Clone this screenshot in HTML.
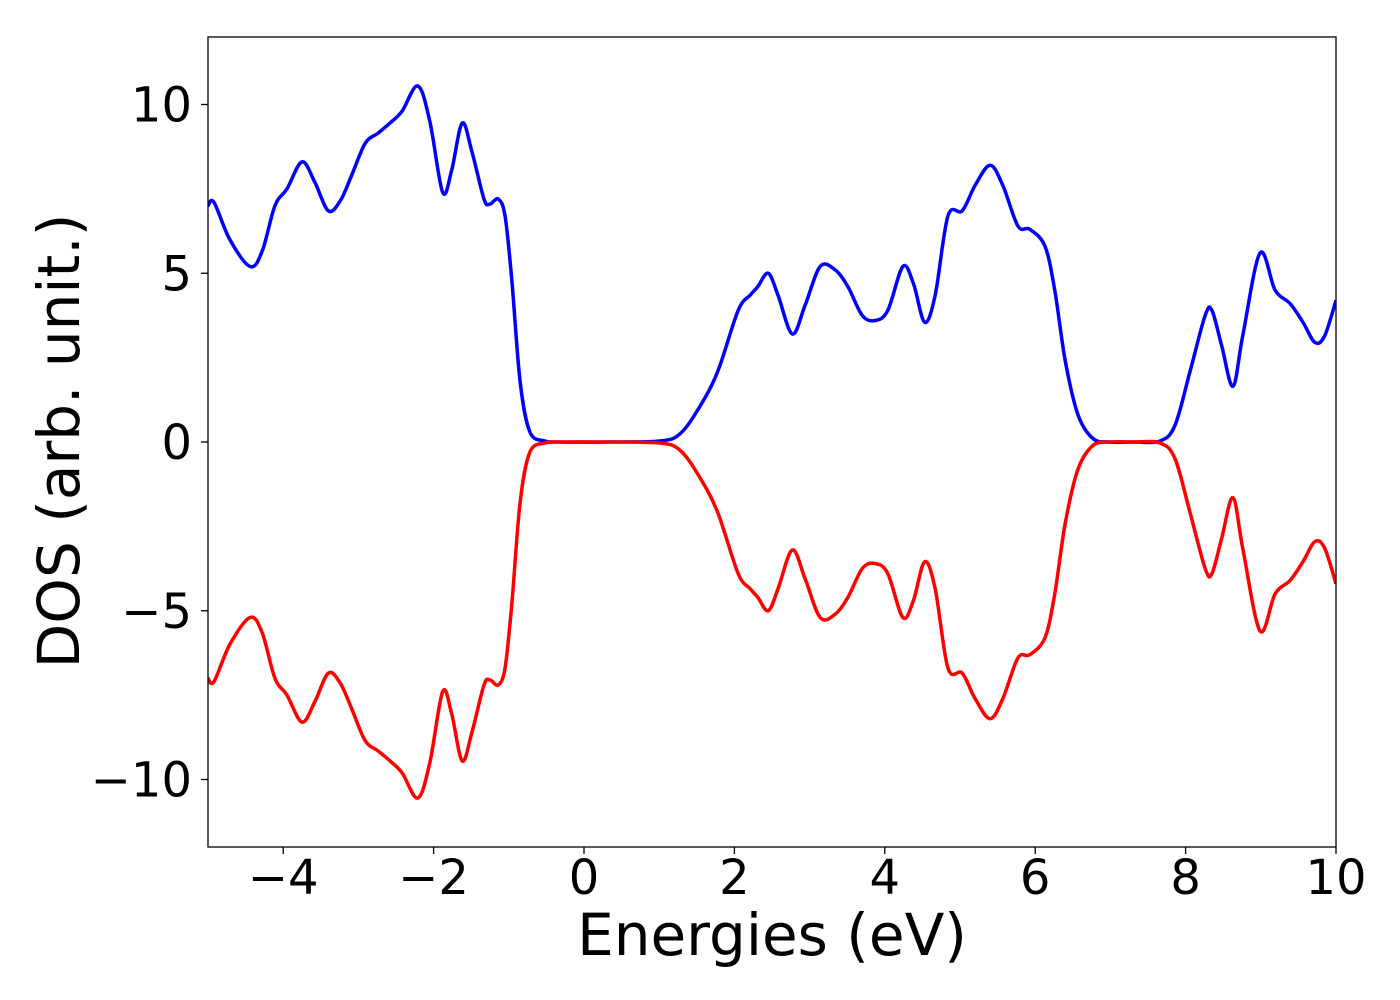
<!DOCTYPE html>
<html><head><meta charset="utf-8"><style>
html,body{margin:0;padding:0;background:#fff;}
svg{display:block;font-family:"DejaVu Sans","Liberation Sans",sans-serif;}
</style></head><body>
<svg id="chart" width="1400" height="1000" xmlns="http://www.w3.org/2000/svg">
<g id="plot"></g>
</svg>
<script>
const energies=[-5,-4.92,-4.71,-4.44,-4.28,-4.11,-3.95,-3.75,-3.58,-3.40,-3.24,-3.09,-2.91,-2.74,-2.58,-2.42,-2.21,-2.05,-1.88,-1.76,-1.62,-1.49,-1.33,-1.25,-1.14,-1.05,-0.96,-0.85,-0.72,-0.52,-0.32,0.3,1.01,1.28,1.54,1.78,2.05,2.21,2.31,2.45,2.58,2.77,2.94,3.14,3.34,3.51,3.70,3.87,4.04,4.24,4.38,4.53,4.67,4.84,5.03,5.20,5.40,5.57,5.77,5.93,6.13,6.26,6.40,6.57,6.77,6.99,7.3,7.66,7.86,8.06,8.26,8.35,8.48,8.63,8.76,8.99,9.19,9.39,9.56,9.72,9.85,10];
const dosUp=[7.0,7.1,6.0,5.2,5.65,7.0,7.5,8.3,7.7,6.85,7.15,7.9,8.85,9.15,9.45,9.8,10.55,9.5,7.4,8.05,9.45,8.6,7.2,7.05,7.2,6.7,4.8,1.8,0.3,0.03,0,0,0.03,0.25,1.05,2.1,3.9,4.35,4.6,5.0,4.35,3.2,4.05,5.2,5.1,4.6,3.75,3.6,3.9,5.2,4.7,3.55,4.35,6.7,6.85,7.6,8.2,7.6,6.4,6.3,5.8,4.5,2.4,0.8,0.1,0,0,0.03,0.5,2.1,3.75,3.9,2.85,1.65,3.15,5.6,4.5,4.1,3.55,2.95,3.15,4.2];
const dosDown=[-7.0,-7.1,-6.0,-5.2,-5.65,-7.0,-7.5,-8.3,-7.7,-6.85,-7.15,-7.9,-8.85,-9.15,-9.45,-9.8,-10.55,-9.5,-7.4,-8.05,-9.45,-8.6,-7.2,-7.05,-7.2,-6.7,-4.8,-1.8,-0.3,-0.03,0,0,-0.03,-0.25,-1.05,-2.1,-3.9,-4.35,-4.6,-5.0,-4.35,-3.2,-4.05,-5.2,-5.1,-4.6,-3.75,-3.6,-3.9,-5.2,-4.7,-3.55,-4.35,-6.7,-6.85,-7.6,-8.2,-7.6,-6.4,-6.3,-5.8,-4.5,-2.4,-0.8,-0.1,0,0,-0.03,-0.5,-2.1,-3.75,-3.9,-2.85,-1.65,-3.15,-5.6,-4.5,-4.1,-3.55,-2.95,-3.15,-4.2];
const xTicks=[-4,-2,0,2,4,6,8,10];
const xTickLabels=["\u22124","\u22122","0","2","4","6","8","10"];
const yTicks=[-10,-5,0,5,10];
const yTickLabels=["\u221210","\u22125","0","5","10"];

const L=208,R=1336,T=37,B=847,xMin=-5,xMax=10,yMin=-12,yMax=12;
const sx=v=>L+(v-xMin)/(xMax-xMin)*(R-L);
const sy=v=>B-(v-yMin)/(yMax-yMin)*(B-T);
const NS="http://www.w3.org/2000/svg";
const g=document.getElementById('plot');
function mk(tag,attrs){const e=document.createElementNS(NS,tag);for(const k in attrs)e.setAttribute(k,attrs[k]);return e;}

// clip
const defs=mk('defs',{});const cp=mk('clipPath',{id:'clip'});cp.appendChild(mk('rect',{x:L,y:T,width:R-L,height:B-T}));defs.appendChild(cp);g.appendChild(defs);

function pathFor(xs,ys){
  const p=xs.map((x,i)=>[sx(x),sy(ys[i])]);
  let d='M'+p[0][0]+','+p[0][1];
  for(let i=0;i<p.length-1;i++){
    const p0=p[Math.max(0,i-1)],p1=p[i],p2=p[i+1],p3=p[Math.min(p.length-1,i+2)];
    const c1x=p1[0]+(p2[0]-p0[0])/6,c1y=p1[1]+(p2[1]-p0[1])/6;
    const c2x=p2[0]-(p3[0]-p1[0])/6,c2y=p2[1]-(p3[1]-p1[1])/6;
    d+=' C'+c1x+','+c1y+' '+c2x+','+c2y+' '+p2[0]+','+p2[1];
  }
  return d;
}
const up=mk('path',{d:pathFor(energies,dosUp),fill:'none',stroke:'#0000ff','stroke-width':3.5,'clip-path':'url(#clip)'});


g.appendChild(up);
const dn=mk('path',{d:pathFor(energies,dosDown),fill:'none',stroke:'#ff0000','stroke-width':3.5,'clip-path':'url(#clip)'});


g.appendChild(dn);

const frame=mk('rect',{x:L,y:T,width:R-L,height:B-T,fill:'none',stroke:'#000','stroke-width':1.3});


g.appendChild(frame);

xTicks.forEach((v,i)=>{
  const x=sx(v);
  const t=mk('line',{x1:x,y1:B,x2:x,y2:B+7,stroke:'#000','stroke-width':1.3});
  
  
  g.appendChild(t);
  const tx=mk('text',{x:x,y:894,'font-size':48,'text-anchor':'middle'});
  tx.textContent=xTickLabels[i];
  
  
  g.appendChild(tx);
});
yTicks.forEach((v,i)=>{
  const y=sy(v);
  const t=mk('line',{x1:L-7,y1:y,x2:L,y2:y,stroke:'#000','stroke-width':1.3});
  
  
  g.appendChild(t);
  const tx=mk('text',{x:192,y:y+17,'font-size':48,'text-anchor':'end'});
  tx.textContent=yTickLabels[i];
  
  
  g.appendChild(tx);
});
const xt=mk('text',{x:772,y:955,'font-size':58,'text-anchor':'middle'});
xt.textContent='Energies (eV)';


g.appendChild(xt);
const yt=mk('text',{x:0,y:0,'font-size':58,'text-anchor':'middle',transform:'translate(79,441) rotate(-90)'});
yt.textContent='DOS (arb. unit.)';


g.appendChild(yt);
</script>
</body></html>
